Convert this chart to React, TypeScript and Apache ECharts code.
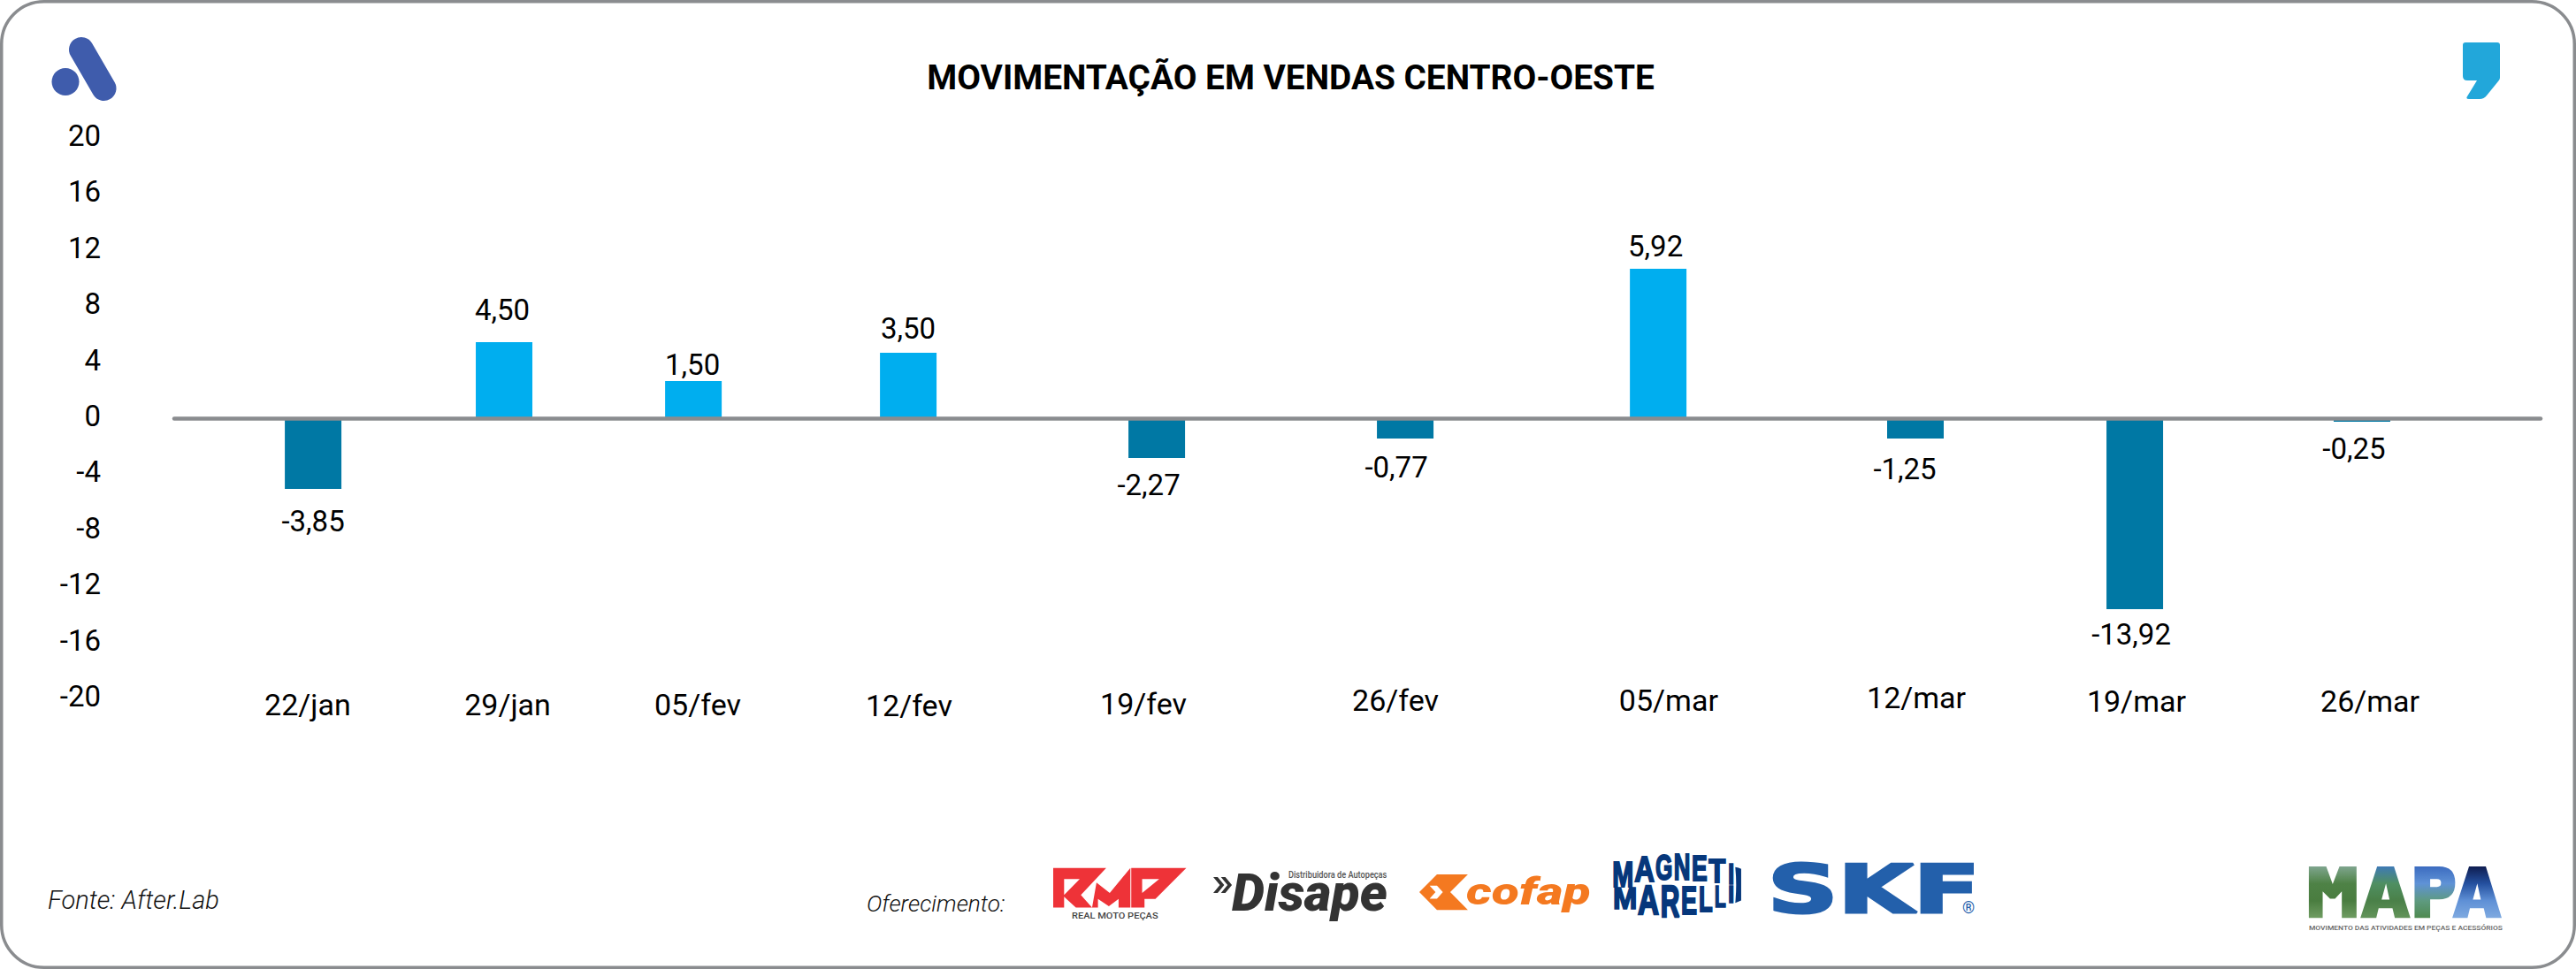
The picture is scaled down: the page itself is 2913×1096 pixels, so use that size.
import React, { useEffect, useRef } from "react";
import * as echarts from "echarts";

// ---- data ----
const categories = ["22/jan", "29/jan", "05/fev", "12/fev", "19/fev", "26/fev", "05/mar", "12/mar", "19/mar", "26/mar"];
// bar lengths as drawn, read against the printed axis
const barValues = [-5.05, 5.43, 2.65, 4.67, -2.84, -1.45, 10.66, -1.45, -13.63, -0.25];
// values as printed above/below each bar
const printedValues = ["-3,85", "4,50", "1,50", "3,50", "-2,27", "-0,77", "5,92", "-1,25", "-13,92", "-0,25"];
const yTicks = { min: -20, max: 20, interval: 4 };
const title = "MOVIMENTAÇÃO EM VENDAS CENTRO-OESTE";
const source = "Fonte: After.Lab";
const sponsorLabel = "Oferecimento:";

// ---- layout of the uneven slots on the hidden horizontal scale (0..10) ----
const barSlots = [0.587, 1.394, 2.194, 3.102, 4.152, 5.202, 6.271, 7.358, 8.285, 9.245];
const labelSlots = [0.564, 1.409, 2.212, 3.105, 4.096, 5.161, 6.315, 7.362, 8.292, 9.279];
const labelDrop = [8, 8, 8, 9, 7, 3, 3, 0, 4, 4];
const valueGap = [20, 20, 2, 11, 14, 16, 9, 18, 12, 14];
const valueShift = [0, -2, -1, 0, -9, -10, -3, -12, -4, -9];

const POS = "#00AEEF";
const NEG = "#0078A4";
const GREY = "#8A8C8F";
const FONT = "Roboto";

const pathRMP_R = "M18 20H198L112 112L150 155H95L55 118V155H18ZM55 58V112L108 58Z";
const pathRMP_M = "M165 70L210 105L280 20V155H240V125L207 150L170 125V155H150Z";
const pathRMP_P = "M283 20H470L365 125H328V155H283ZM320 58V105L378 58Z";
const pathComma = "M2788 48H2824Q2827 48 2827 51V88Q2827 90 2825 92L2812 108Q2809 112 2804 112H2792Q2788 112 2790 109L2801 91H2790Q2785 91 2785 86V51Q2785 48 2788 48Z";
const pathCofap = "M45 147L105 87H210L150 147L210 208H105ZM80 125L100 147L80 170H105L125 147L105 125Z";
const pathChevrons = "M0 0H8L20 18L8 36H0L12 18ZM14 0H22L34 18L22 36H14L26 18Z";
const pathMarelliEnd = "M1118 62Q1130 64 1138 68V176Q1130 180 1118 184Q1124 122 1118 62Z";
const pathMapaM = "M333 120H392L414 180L437 120H495V295H445V205L422 230H405L380 205V295H333Z";
const pathMapaA1 = "M508 295L565 120H622L678 295H625L617 262H570L562 295ZM595 178L580 233H607Z";
const pathMapaP = "M692 120H775Q830 120 830 175Q830 232 775 232H745V295H692ZM745 163V190H768Q782 190 782 176Q782 163 768 163Z";
const pathMapaA2 = "M820 295L877 120H934L988 295H935L927 262H880L872 295ZM905 178L890 233H917Z";

const reg = (name: string, d: string) => echarts.graphic.registerShape(name, echarts.graphic.extendPath(d, {}));
reg("rmpR", pathRMP_R);
reg("rmpM", pathRMP_M);
reg("rmpP", pathRMP_P);
reg("commaLogo", pathComma);
reg("cofapMark", pathCofap);
reg("chevrons", pathChevrons);
reg("marelliEnd", pathMarelliEnd);
reg("mapaM", pathMapaM);
reg("mapaA1", pathMapaA1);
reg("mapaP", pathMapaP);
reg("mapaA2", pathMapaA2);

const txt = (text: string, x: number, y: number, size: number, fill: string, extra: any = {}, el: any = {}) => ({
  type: "text",
  x,
  y,
  ...el,
  style: {
    text,
    fontSize: size,
    fontFamily: FONT,
    fill,
    textAlign: "left",
    textVerticalAlign: "middle",
    ...extra,
  },
});

const vGrad = (stops: string[]) =>
  new echarts.graphic.LinearGradient(0, 0, 0, 1, stops.map((color, i) => ({ offset: i / (stops.length - 1), color })));

// Magneti Marelli lens: letter, advance width (em) and its box in 3x logo space
const marelliLetters: [string, number, number, number, number, number][] = [
  ["M", 0.833, 700, 772, 42, 132],
  ["A", 0.722, 775, 843, 28, 115],
  ["G", 0.778, 846, 904, 15, 105],
  ["N", 0.722, 908, 964, 13, 105],
  ["E", 0.667, 969, 1022, 22, 110],
  ["T", 0.611, 1027, 1084, 35, 115],
  ["I", 0.278, 1092, 1114, 50, 122],
  ["M", 0.833, 702, 784, 130, 205],
  ["A", 0.722, 786, 858, 124, 225],
  ["R", 0.722, 863, 928, 126, 235],
  ["E", 0.667, 933, 987, 128, 226],
  ["L", 0.611, 993, 1040, 128, 215],
  ["L", 0.611, 1046, 1085, 124, 200],
  ["I", 0.278, 1092, 1114, 126, 186],
];

function marelli(): any[] {
  const size = 40;
  const capH = size * 0.729;
  return marelliLetters.map(([ch, adv, x0, x1, y0, y1]) =>
    txt(
      ch,
      1590 + (x0 + x1) / 6,
      960 + (y0 + y1) / 6,
      size,
      "#06377B",
      { fontWeight: 700, fontFamily: "Liberation Sans", textAlign: "center", stroke: "#06377B", lineWidth: 2 },
      { scaleX: (x1 - x0) / 3 / (adv * size), scaleY: (y1 - y0) / 3 / capH }
    )
  );
}

function graphics(): any[] {
  const third = { scaleX: 1 / 3, scaleY: 1 / 3 };
  const mapaPos = { x: 2500, y: 940, scaleX: 1 / 3, scaleY: 1 / 3 };
  return [
    { type: "rect", shape: { x: 1.75, y: 1.75, width: 2909.5, height: 1092.5, r: 48 }, style: { fill: "none", stroke: GREY, lineWidth: 3.5 } },
    // top-left logo
    { type: "ellipse", shape: { cx: 74, cy: 92.5, rx: 15.5, ry: 15.5 }, style: { fill: "#3F5CAC" } },
    { type: "line", shape: { x1: 92, y1: 56, x2: 117.5, y2: 100 }, style: { stroke: "#3F5CAC", lineWidth: 28, lineCap: "round" } },
    // top-right logo
    { type: "commaLogo", x: 0, y: 0, style: { fill: "#22A7DA" } },
    // title and notes
    txt(title, 1459.5, 87, 38.8, "#000", { fontWeight: 700, textAlign: "center" }),
    txt(source, 54, 1018, 29, "#111", { fontStyle: "italic", fontWeight: 300 }),
    txt(sponsorLabel, 980, 1022, 26.3, "#111", { fontStyle: "italic", fontWeight: 300 }),
    // RMP
    { type: "rmpR", x: 1185, y: 975, ...third, style: { fill: "#EE3338" } },
    { type: "rmpM", x: 1185, y: 975, ...third, style: { fill: "#EE3338" } },
    { type: "rmpP", x: 1185, y: 975, ...third, style: { fill: "#EE3338" } },
    txt("REAL MOTO PEÇAS", 1212, 1036, 8.5, "#444", { fontWeight: 500 }, { scaleX: 1.3 }),
    // Disape
    { type: "chevrons", x: 1372, y: 992, scaleX: 0.62, scaleY: 0.5, style: { fill: "#333" } },
    txt("Disape", 1393, 1009, 59, "#333", { fontWeight: 900, fontStyle: "italic" }),
    txt("Distribuidora de Autopeças", 1457, 989.5, 10, "#555", { fontWeight: 500 }, { scaleX: 0.92 }),
    // Cofap
    { type: "cofapMark", x: 1590, y: 960, ...third, style: { fill: "#F47920" } },
    txt("cofap", 1658, 1008, 42, "#F47920", { fontWeight: 900, fontStyle: "italic" }, { scaleX: 1.36 }),
    // Magneti Marelli
    ...marelli(),
    { type: "marelliEnd", x: 1590, y: 960, ...third, style: { fill: "#06377B" } },
    // SKF
    txt("SKF", 1999, 1005.5, 75, "#2360AB", { fontWeight: 700, fontFamily: "DejaVu Sans", stroke: "#2360AB", lineWidth: 3 }, { scaleX: 1.47 }),
    txt("®", 2219, 1026, 18, "#2360AB"),
    // MAPA
    { type: "mapaM", ...mapaPos, style: { fill: vGrad(["#7FA58E", "#4E8246", "#4A7D40", "#6F9C62"]) } },
    { type: "mapaA1", ...mapaPos, style: { fill: vGrad(["#3F7AB5", "#4F8F62", "#4A8048", "#63945A"]) } },
    { type: "mapaP", ...mapaPos, style: { fill: vGrad(["#3C6CC0", "#5F92D6", "#5E9A80", "#4F8A50"]) } },
    { type: "mapaA2", ...mapaPos, style: { fill: vGrad(["#0F1D50", "#24509F", "#5F90D6", "#7FAAE0"]) } },
    txt("MOVIMENTO DAS ATIVIDADES EM PEÇAS E ACESSÓRIOS", 2611, 1050, 7.5, "#666", { fontWeight: 500 }, { scaleX: 1.126 }),
  ];
}

function buildOption(): any {
  const rich: any = {};
  labelDrop.forEach((d) => {
    rich["d" + d] = { fontFamily: FONT, fontSize: 34, fontWeight: 400, color: "#000", padding: [d, 0, 0, 0] };
  });
  return {
    animation: false,
    backgroundColor: "#fff",
    grid: { left: 197, top: 156, width: 2676, height: 634, containLabel: false },
    xAxis: [
      {
        type: "value",
        min: 0,
        max: 10,
        z: 5,
        axisLine: { show: true, onZero: true, lineStyle: { color: GREY, width: 4.5 } },
        axisTick: { show: false },
        axisLabel: { show: false },
        splitLine: { show: false },
      },
      {
        type: "value",
        min: 0,
        max: 10,
        position: "bottom",
        axisLine: { show: false, onZero: false },
        axisTick: { show: false },
        splitLine: { show: false },
        axisLabel: {
          show: true,
          customValues: labelSlots,
          margin: -18,
          hideOverlap: false,
          verticalAlign: "top",
          formatter: (v: number) => {
            const i = labelSlots.indexOf(v);
            return `{d${labelDrop[i]}|${categories[i]}}`;
          },
          rich,
        },
      },
    ],
    yAxis: {
      type: "value",
      min: yTicks.min,
      max: yTicks.max,
      interval: yTicks.interval,
      axisLine: { show: false },
      axisTick: { show: false },
      splitLine: { show: false },
      axisLabel: {
        show: true,
        margin: 83,
        align: "right",
        formatter: (v: number) => `{t|${v}}`,
        rich: { t: { fontFamily: FONT, fontSize: 33, fontWeight: 400, color: "#000", padding: [0, 0, 5, 0] } },
      },
    },
    series: [
      {
        type: "bar",
        xAxisIndex: 0,
        yAxisIndex: 0,
        barWidth: 64,
        data: barValues.map((v, i) => ({
          value: [barSlots[i], v],
          itemStyle: { color: v >= 0 ? POS : NEG },
          label: {
            show: true,
            position: v >= 0 ? "top" : "bottom",
            distance: valueGap[i],
            offset: [valueShift[i], 0],
            formatter: printedValues[i],
            fontFamily: FONT,
            fontSize: 33,
            fontWeight: 400,
            color: "#000",
          },
        })),
      },
    ],
    graphic: { elements: graphics() },
  };
}

export default function App() {
  const ref = useRef<HTMLDivElement>(null);
  useEffect(() => {
    document.body.style.margin = "0";
    document.body.style.background = "#fff";
    const chart = echarts.init(ref.current!, undefined, { renderer: "svg", width: 2913, height: 1096 });
    chart.setOption(buildOption());
    return () => chart.dispose();
  }, []);
  return <div ref={ref} style={{ width: 2913, height: 1096, overflow: "hidden" }} />;
}
